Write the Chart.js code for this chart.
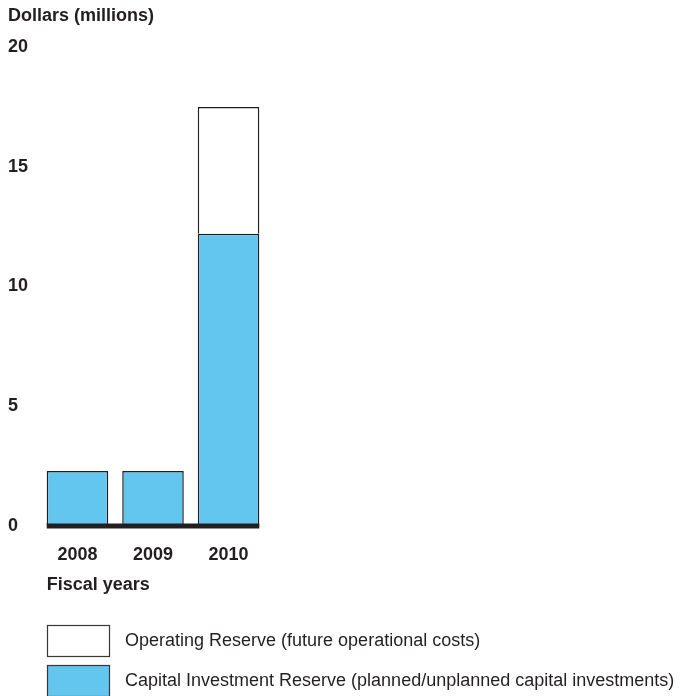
<!DOCTYPE html>
<html>
<head>
<meta charset="utf-8">
<title>Reserves by fiscal year</title>
<script src="https://cdn.jsdelivr.net/npm/chart.js@4/dist/chart.umd.min.js"></script>
<style>
  html, body { margin: 0; padding: 0; background: #ffffff; }
  #wrap { position: relative; width: 695px; height: 696px; }
</style>
</head>
<body>
<div id="wrap"><canvas id="chart" width="695" height="696"></canvas></div>
<script>
// Fiscal years and reserve balances, in millions of dollars
const fiscalYears = ['2008', '2009', '2010'];
const capitalInvestmentReserve = [2.3, 2.3, 12.2];
const operatingReserve = [null, null, 5.3];
const yTickValues = [0, 5, 10, 15, 20];
const xAxisTitle = 'Fiscal years';

const INK = '#231f20';
const BLUE = '#63c6ee';
const FONT = '"Liberation Sans", Arial, Helvetica, sans-serif';

// Thick baseline under the bars at zero, plus the axis caption aligned with the first bar
const baselinePlugin = {
  id: 'baseline',
  afterDatasetsDraw(chart) {
    const bars = chart.getDatasetMeta(0).data;
    if (!bars.length) return;
    const first = bars[0], last = bars[bars.length - 1];
    const x0 = first.x - first.width / 2;
    const x1 = last.x + last.width / 2;
    const y = chart.scales.y.getPixelForValue(0);
    const xs = chart.scales.x;
    const ctx = chart.ctx;
    ctx.save();
    ctx.fillStyle = INK;
    ctx.fillRect(x0, y - 2.5, x1 - x0, 5);
    ctx.font = 'bold 18px ' + FONT;
    ctx.textAlign = 'left';
    ctx.textBaseline = 'middle';
    ctx.fillText(xAxisTitle, x0, xs.bottom - 10.8);
    ctx.restore();
  }
};

// Stacked key below the axis: one swatch per reserve, top series first
const keyPlugin = {
  id: 'stackedKey',
  afterDraw(chart) {
    const ctx = chart.ctx;
    const sets = chart.data.datasets.slice().reverse();
    const left = chart.chartArea.left + 7.3;
    let top = 625;
    ctx.save();
    ctx.font = '18px ' + FONT;
    ctx.textBaseline = 'middle';
    ctx.textAlign = 'left';
    sets.forEach(ds => {
      ctx.fillStyle = ds.backgroundColor;
      ctx.fillRect(left, top, 63, 32);
      ctx.lineWidth = 1.2;
      ctx.strokeStyle = '#3a3637';
      ctx.strokeRect(left + 0.5, top + 0.5, 62, 31);
      ctx.fillStyle = INK;
      ctx.fillText(ds.label, left + 78, top + 16.5);
      top += 40;
    });
    ctx.restore();
  }
};

new Chart(document.getElementById('chart'), {
  type: 'bar',
  data: {
    labels: fiscalYears,
    datasets: [
      {
        label: 'Capital Investment Reserve (planned/unplanned capital investments)',
        data: capitalInvestmentReserve,
        backgroundColor: BLUE,
        borderColor: INK,
        borderWidth: 1.5
      },
      {
        label: 'Operating Reserve (future operational costs)',
        data: operatingReserve,
        backgroundColor: '#ffffff',
        borderColor: INK,
        borderWidth: 1.5
      }
    ]
  },
  options: {
    responsive: false,
    animation: false,
    events: [],
    layout: { padding: { left: 8, right: 428.7, top: 0, bottom: 99.8 } },
    datasets: {
      bar: { categoryPercentage: 1, barPercentage: 0.815 }
    },
    scales: {
      x: {
        type: 'category',
        stacked: true,
        grid: { display: false, drawTicks: false },
        border: { display: false },
        afterFit(scale) { scale.height = 70.2; },
        ticks: {
          color: INK,
          padding: 18,
          font: { family: FONT, size: 18, weight: 'bold' }
        }
      },
      y: {
        stacked: true,
        min: 0,
        max: 20,
        grid: { display: false, drawTicks: false },
        border: { display: false },
        afterBuildTicks(scale) {
          scale.ticks = yTickValues.map(v => ({ value: v }));
        },
        afterFit(scale) { scale.width = 31.7; },
        ticks: {
          color: INK,
          crossAlign: 'far',
          padding: 0,
          font: { family: FONT, size: 18, weight: 'bold' }
        }
      }
    },
    plugins: {
      legend: { display: false },
      tooltip: { enabled: false },
      title: {
        display: true,
        text: 'Dollars (millions)',
        align: 'start',
        color: INK,
        padding: { top: 5, bottom: 20.4 },
        font: { family: FONT, size: 18, weight: 'bold' }
      }
    }
  },
  plugins: [baselinePlugin, keyPlugin]
});
</script>
</body>
</html>
